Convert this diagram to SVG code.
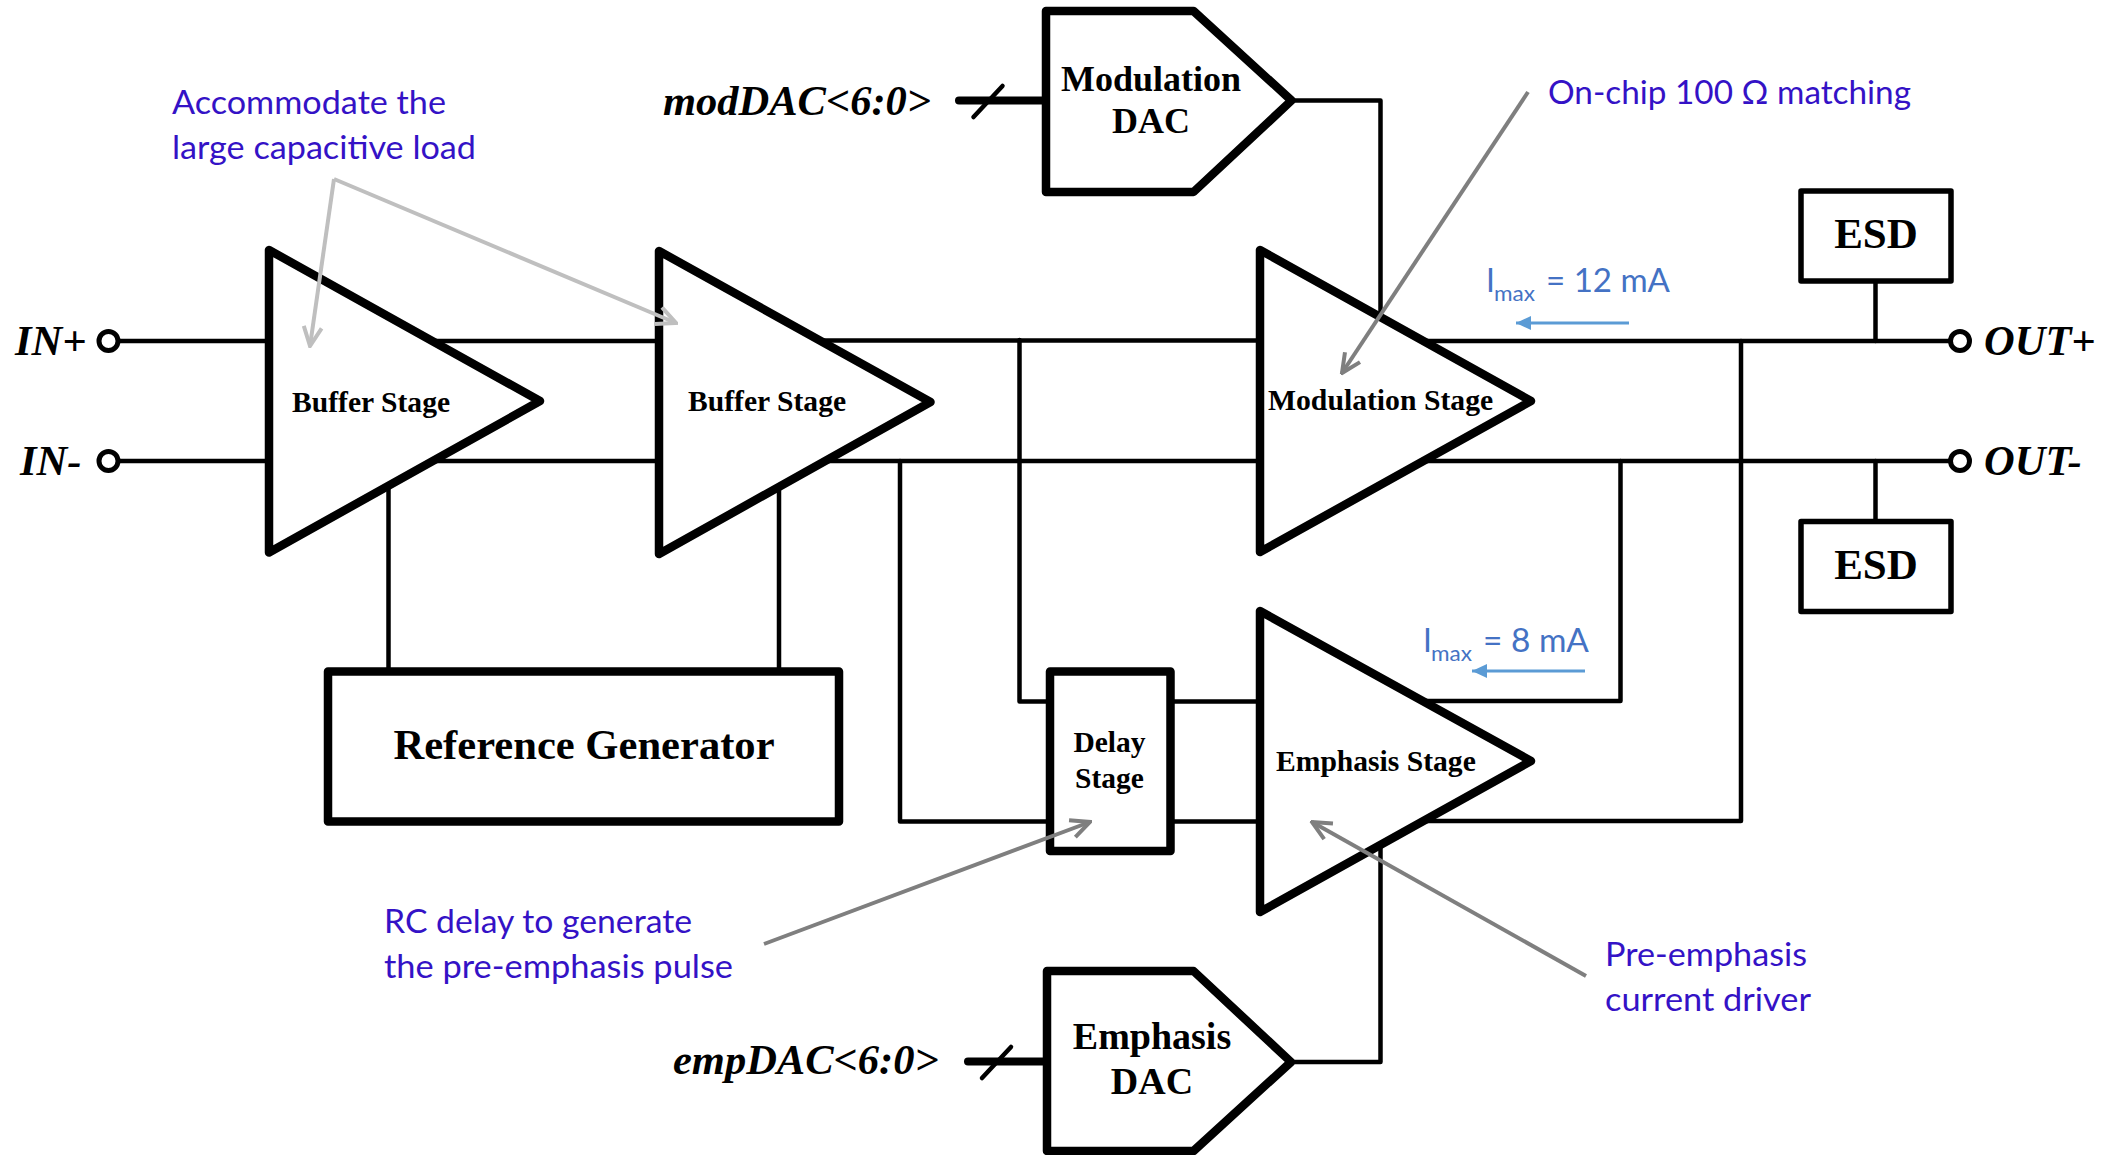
<svg xmlns="http://www.w3.org/2000/svg" width="2115" height="1155" viewBox="0 0 2115 1155">
<style>
.w{fill:none;stroke:#000;stroke-width:4.5;stroke-linejoin:round;stroke-linecap:round}
.b{fill:#fff;stroke:#000;stroke-width:8.500;stroke-linejoin:round}
.e{fill:#fff;stroke:#000;stroke-width:5.500;stroke-linejoin:round}
.p{fill:#fff;stroke:#000;stroke-width:5}
.t{font-family:"Liberation Serif",serif;font-weight:bold;fill:#000}
.i{font-family:"Liberation Serif",serif;font-weight:bold;font-style:italic;font-size:42.500px;fill:#000}
.m{text-anchor:middle}
.n{font-family:Lato,"Open Sans",sans-serif;font-size:32px;fill:#3412C6}
.c{font-family:Lato,"Open Sans",sans-serif;font-size:32px;fill:#4472C4}
.s{font-size:21px}
.l{fill:none;stroke:#BFBFBF;stroke-width:4}
.g{fill:none;stroke:#7F7F7F;stroke-width:4}
.a{fill:none;stroke:#5B9BD5;stroke-width:3}
</style>
<defs>
<marker id="hl" viewBox="0 0 24 24" refX="22" refY="12" markerWidth="24" markerHeight="24" markerUnits="userSpaceOnUse" orient="auto"><path d="M3 3L22 12L3 21" fill="none" stroke="#BFBFBF" stroke-width="4"/></marker>
<marker id="hg" viewBox="0 0 24 24" refX="22" refY="12" markerWidth="24" markerHeight="24" markerUnits="userSpaceOnUse" orient="auto"><path d="M3 3L22 12L3 21" fill="none" stroke="#7F7F7F" stroke-width="4"/></marker>
<marker id="hb" viewBox="0 0 16 16" refX="15" refY="8" markerWidth="16" markerHeight="16" markerUnits="userSpaceOnUse" orient="auto"><path d="M0 1L15 8L0 15Z" fill="#5B9BD5"/></marker>
</defs>
<rect width="2115" height="1155" fill="#fff"/>
<g id="connectors">
<path class="w" d="M108 341H269"/>
<path class="w" d="M108 461H269"/>
<path class="w" d="M420 341H659"/>
<path class="w" d="M420 461H659"/>
<path class="w" d="M388.500 480V672"/>
<path class="w" d="M779 480V672"/>
<path class="w" d="M810 340.500H1260"/>
<path class="w" d="M810 461H1260"/>
<path class="w" d="M1019.500 340V701.500H1050"/>
<path class="w" d="M900 461V821.500H1050"/>
<path class="w" d="M1170 701.500H1260"/>
<path class="w" d="M1170 821.500H1260"/>
<path class="w" d="M1292 100.500H1380.500V320"/>
<path class="w" d="M1292 1062H1380.500V840"/>
<path class="w" d="M1420 341H1960"/>
<path class="w" d="M1420 461H1960"/>
<path class="w" d="M1741 341V821H1420"/>
<path class="w" d="M1620.500 461V701H1420"/>
<path class="w" d="M1875.500 281V341"/>
<path class="w" d="M1875.500 461V522"/>
<path fill="none" stroke="#000" stroke-width="8" stroke-linecap="round" d="M959 100.500H1046"/>
<path fill="none" stroke="#000" stroke-width="8" stroke-linecap="round" d="M968 1061.500H1047"/>
<path class="w" d="M1002.500 86L973.500 117"/>
<path class="w" d="M1011 1047L982 1078"/>
</g>
<g id="in-plus"><circle class="p" cx="108.500" cy="341" r="9.500"/><text class="i" x="15" y="355">IN+</text></g>
<g id="in-minus"><circle class="p" cx="108.500" cy="461" r="9.500"/><text class="i" x="20" y="475">IN-</text></g>
<g id="out-plus"><circle class="p" cx="1960" cy="341" r="9.500"/><text class="i" x="1984" y="355">OUT+</text></g>
<g id="out-minus"><circle class="p" cx="1960" cy="461" r="9.500"/><text class="i" x="1984" y="475">OUT-</text></g>
<g id="buffer-1"><path class="b" d="M269 250V552.500L540 401Z"/><text class="t" font-size="29.600" x="292" y="412">Buffer Stage</text></g>
<g id="buffer-2"><path class="b" d="M659 251V554L930.500 402Z"/><text class="t" font-size="29.600" x="688" y="411">Buffer Stage</text></g>
<g id="modulation-stage"><path class="b" d="M1260 250V552L1531 401Z"/><text class="t" font-size="29.700" x="1268" y="410">Modulation Stage</text></g>
<g id="emphasis-stage"><path class="b" d="M1260 611V912L1531 761Z"/><text class="t" font-size="29.600" x="1276" y="770.500">Emphasis Stage</text></g>
<g id="modulation-dac"><path class="b" d="M1046 11H1193.500L1291.500 100.500L1193.500 192H1046Z"/><text class="t m" font-size="36" x="1151" y="91">Modulation</text><text class="t m" font-size="36" x="1151" y="133">DAC</text></g>
<g id="emphasis-dac"><path class="b" d="M1047 971H1193.500L1291 1062L1193.500 1151H1047Z"/><text class="t m" font-size="38" x="1152" y="1049">Emphasis</text><text class="t m" font-size="38" x="1152" y="1094">DAC</text></g>
<g id="reference-generator"><rect class="b" x="328" y="671.500" width="511" height="150"/><text class="t m" font-size="42.600" x="584" y="759">Reference Generator</text></g>
<g id="delay-stage"><rect class="b" x="1050" y="671.500" width="120.500" height="179.500"/><text class="t m" font-size="29.500" x="1109.500" y="752">Delay</text><text class="t m" font-size="29.500" x="1109.500" y="788">Stage</text></g>
<g id="esd-top"><rect class="e" x="1801" y="191" width="150" height="90"/><text class="t m" font-size="43" x="1876" y="248">ESD</text></g>
<g id="esd-bottom"><rect class="e" x="1801" y="521.500" width="150" height="90"/><text class="t m" font-size="43" x="1876" y="579">ESD</text></g>
<text id="mod-dac-label" class="i" x="663" y="115">modDAC&lt;6:0&gt;</text>
<text id="emp-dac-label" class="i" x="673" y="1074">empDAC&lt;6:0&gt;</text>
<g id="annotations">
<path class="l" marker-end="url(#hl)" d="M334 179L310 346"/>
<path class="l" marker-end="url(#hl)" d="M334 179L676 323"/>
<path class="g" marker-end="url(#hg)" d="M1528 92L1342 373"/>
<path class="g" marker-end="url(#hg)" d="M764 944L1090 822"/>
<path class="g" marker-end="url(#hg)" d="M1586 976L1312 822"/>
<path class="a" marker-end="url(#hb)" d="M1629 323H1516"/>
<path class="a" marker-end="url(#hb)" d="M1585 671H1472"/>
<text class="n" x="172" y="114" textLength="274" lengthAdjust="spacingAndGlyphs">Accommodate the</text>
<text class="n" x="172" y="159" textLength="304" lengthAdjust="spacingAndGlyphs">large capacitive load</text>
<text class="n" x="1548" y="104" textLength="363" lengthAdjust="spacingAndGlyphs">On-chip 100 Ω matching</text>
<text class="n" x="384" y="933" textLength="308" lengthAdjust="spacingAndGlyphs">RC delay to generate</text>
<text class="n" x="384" y="978" textLength="349" lengthAdjust="spacingAndGlyphs">the pre-emphasis pulse</text>
<text class="n" x="1605" y="966" textLength="202" lengthAdjust="spacingAndGlyphs">Pre-emphasis</text>
<text class="n" x="1605" y="1011" textLength="206" lengthAdjust="spacingAndGlyphs">current driver</text>
<text class="c" x="1486" y="292">I<tspan class="s" x="1494" y="301" textLength="41" lengthAdjust="spacingAndGlyphs">max</tspan><tspan x="1546" y="292" textLength="124" lengthAdjust="spacingAndGlyphs">= 12 mA</tspan></text>
<text class="c" x="1423" y="652">I<tspan class="s" x="1431" y="661" textLength="41" lengthAdjust="spacingAndGlyphs">max</tspan><tspan x="1483" y="652" textLength="106" lengthAdjust="spacingAndGlyphs">= 8 mA</tspan></text>
</g>
</svg>
